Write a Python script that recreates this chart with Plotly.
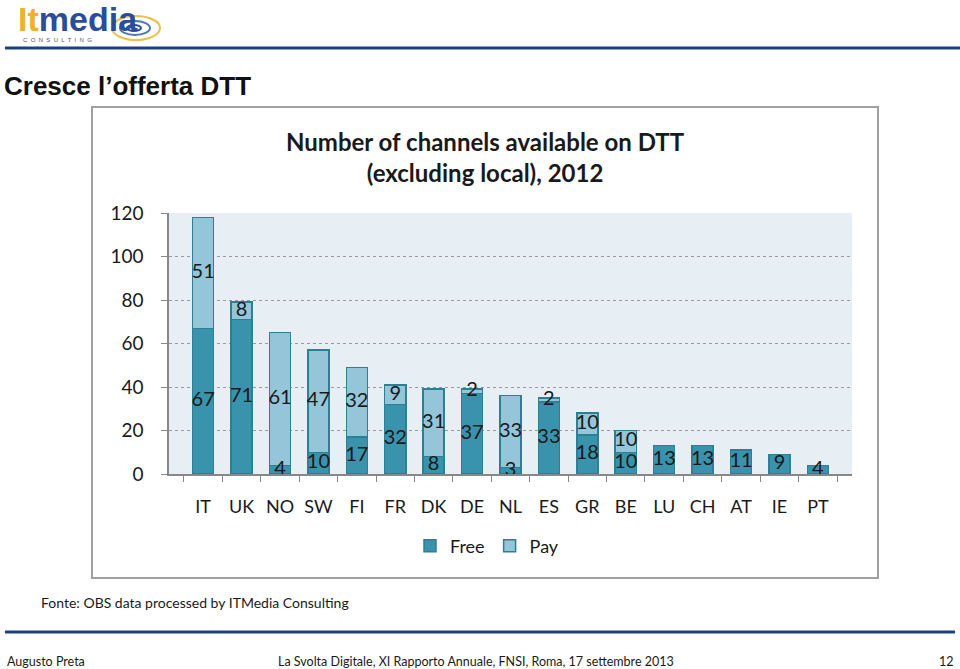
import plotly.graph_objects as go

countries = ["IT", "UK", "NO", "SW", "FI", "FR", "DK", "DE", "NL", "ES", "GR", "BE", "LU", "CH", "AT", "IE", "PT"]
free = [67, 71, 4, 10, 17, 32, 8, 37, 3, 33, 18, 10, 13, 13, 11, 9, 4]
pay = [51, 8, 61, 47, 32, 9, 31, 2, 33, 2, 10, 10, 0, 0, 0, 0, 0]
y_ticks = [0, 20, 40, 60, 80, 100, 120]

W, H = 960, 669
def px(x):
    return x / W
def py(y):
    return 1 - y / H

FREE_C = "#3A93AD"
PAY_C = "#94C5D8"
EDGE_C = "#2E7E94"
FONT = "Lato"

fig = go.Figure()
fig.add_trace(go.Bar(x=countries, y=free, name="Free", marker=dict(color=FREE_C, line=dict(color=EDGE_C, width=1.5)), hoverinfo="skip"))
fig.add_trace(go.Bar(x=countries, y=pay, name="Pay", marker=dict(color=PAY_C, line=dict(color=EDGE_C, width=1.5)), hoverinfo="skip"))

# data labels
fx, fy, ft = [], [], []
for c, f in zip(countries, free):
    fx.append(c); fy.append(f / 2); ft.append(str(f))
px_, py_, pt_ = [], [], []
for c, f, p in zip(countries, free, pay):
    if p > 0:
        px_.append(c); py_.append(f + p / 2); pt_.append(str(p))
fig.add_trace(go.Scatter(x=fx + px_, y=fy + py_, text=ft + pt_, mode="text", textposition="middle center",
                         textfont=dict(family=FONT, size=20, color="#1a1a1a"), showlegend=False, hoverinfo="skip"))

fig.update_layout(
    width=W, height=H, barmode="stack", bargap=0.45,
    margin=dict(l=0, r=0, t=0, b=0, pad=0, autoexpand=False),
    paper_bgcolor="white", plot_bgcolor="#E8EFF4",
    font=dict(family=FONT, color="#1a1a1a"),
    showlegend=True,
    legend=dict(orientation="h", x=px(487), y=py(546), xanchor="center", yanchor="middle", traceorder="normal",
                font=dict(family=FONT, size=18, color="#1a1a1a"), bgcolor="rgba(0,0,0,0)",
                itemwidth=30, tracegroupgap=0),
    xaxis=dict(domain=[px(169), px(852)], type="category", showline=True, linecolor="#888888", linewidth=1.5,
               ticks="outside", tickson="boundaries", ticklen=6, tickcolor="#888888", showgrid=False, automargin=False,
               tickangle=0, tickfont=dict(family=FONT, size=18, color="#1a1a1a"), ticklabelstandoff=16, fixedrange=True),
    yaxis=dict(domain=[py(474), py(213)], range=[0, 120], tickvals=y_ticks, showline=True, linecolor="#888888",
               linewidth=1.5, ticks="outside", ticklen=6, tickcolor="#888888", showgrid=True, automargin=False,
               gridcolor="#9a9a9a", griddash="dot", gridwidth=1, zeroline=False,
               tickfont=dict(family=FONT, size=19, color="#1a1a1a"), ticklabelstandoff=14, fixedrange=True),
)

shapes = [
    dict(type="rect", xref="paper", yref="paper", x0=px(92), x1=px(878), y0=py(578), y1=py(107),
         line=dict(color="#A0A0A0", width=2), fillcolor="rgba(0,0,0,0)", layer="below"),
    dict(type="line", xref="paper", yref="paper", x0=px(5), x1=px(960), y0=py(48), y1=py(48),
         line=dict(color="#1F3F80", width=3)),
    dict(type="line", xref="paper", yref="paper", x0=px(5), x1=px(955), y0=py(632), y1=py(632),
         line=dict(color="#1F3F80", width=3)),
    # logo swoosh
    dict(type="circle", xref="paper", yref="paper", x0=px(112), x1=px(160), y0=py(40), y1=py(16),
         line=dict(color="#F2C04A", width=2), fillcolor="rgba(0,0,0,0)"),
    dict(type="circle", xref="paper", yref="paper", x0=px(120), x1=px(150), y0=py(35), y1=py(21),
         line=dict(color="#4C78B8", width=2), fillcolor="rgba(0,0,0,0)"),
    dict(type="circle", xref="paper", yref="paper", x0=px(127), x1=px(141), y0=py(31), y1=py(25),
         line=dict(color="#2B4C9B", width=2), fillcolor="rgba(0,0,0,0)"),
]
fig.update_layout(shapes=shapes)

def A(x, y, text, size, anchor="left", family=FONT, color="#1a1a1a", yanchor="middle"):
    return dict(xref="paper", yref="paper", x=px(x), y=py(y), text=text,
                font=dict(family=family, size=size, color=color),
                xanchor=anchor, yanchor=yanchor, showarrow=False, borderpad=0)

ann = [
    A(17, 19, '<b><span style="color:#F0B030">It</span><span style="color:#2B4C9B">media</span></b>', 34, family="Liberation Sans"),
    A(22, 36, "C  O  N  S  U  L  T  I  N  G", 6, family="Liberation Sans", color="#555555", yanchor="top"),
    A(3, 86, "<b>Cresce l’offerta DTT</b>", 26, family="Liberation Sans", color="#111111"),
    A(485, 157, "<b>Number of channels available on DTT<br>(excluding local), 2012</b>", 24, anchor="center"),
    A(40, 602, "Fonte: OBS data processed by ITMedia Consulting", 14),
    A(6, 661, "Augusto Preta", 12.5),
    A(476, 661, "La Svolta Digitale, XI Rapporto Annuale, FNSI, Roma, 17 settembre 2013", 12.5, anchor="center"),
    A(955, 661, "12", 12.5, anchor="right"),
]
fig.update_layout(annotations=ann)

fig.write_html("out.html", config={"displayModeBar": False},
               post_script="document.body.style.margin='0';document.body.style.padding='0';")
